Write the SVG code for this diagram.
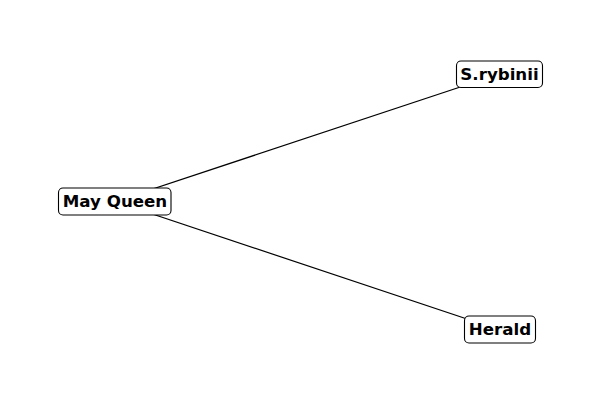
<svg xmlns="http://www.w3.org/2000/svg" width="600" height="400" viewBox="0 0 600 400">
<style>
.box{fill:#fff;stroke:#000;stroke-width:1.1}
.lbl{font-family:"DejaVu Sans",sans-serif;font-weight:bold;font-size:16.67px;text-anchor:middle;dominant-baseline:central;fill:#000}
.edge{stroke:#000;stroke-width:1.2;fill:none}
</style>
<rect width="600" height="400" fill="#fff"/>
<g id="edges">
<line class="edge" x1="115" y1="201.5" x2="499.5" y2="74"/>
<line class="edge" x1="115" y1="201.5" x2="500" y2="330"/>
</g>
<g id="node-may-queen">
<rect class="box" x="58.5" y="188" width="112.5" height="27" rx="4.5"/>
<text class="lbl" x="115" y="201.5">May Queen</text>
</g>
<g id="node-srybinii">
<rect class="box" x="456.5" y="61" width="86" height="26.5" rx="4.5"/>
<text class="lbl" x="499.5" y="74">S.rybinii</text>
</g>
<g id="node-herald">
<rect class="box" x="464.5" y="316" width="71" height="27" rx="4.5"/>
<text class="lbl" x="500" y="329.5">Herald</text>
</g>
</svg>
